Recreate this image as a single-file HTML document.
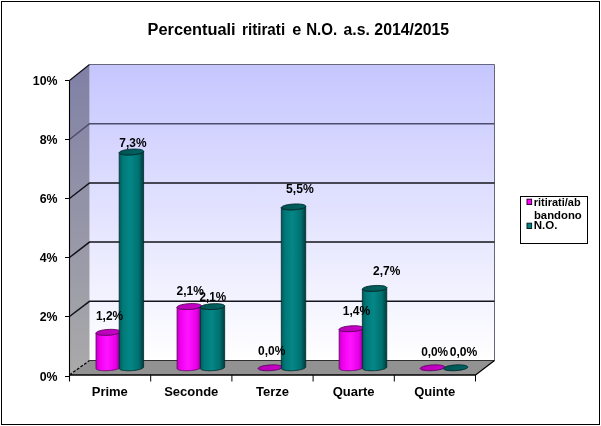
<!DOCTYPE html>
<html><head><meta charset="utf-8"><title>Percentuali ritirati e N.O.</title>
<style>html,body{margin:0;padding:0;background:#fff;}svg{display:block;}</style></head>
<body>
<svg width="601" height="426" viewBox="0 0 601 426" font-family="'Liberation Sans', sans-serif" font-weight="bold" fill="#000">
<defs>
<linearGradient id="gw" x1="0" y1="0" x2="0" y2="1"><stop offset="0" stop-color="#c6c6ff"/><stop offset="1" stop-color="#ffffff"/></linearGradient>
<linearGradient id="gs" x1="0" y1="0" x2="0" y2="1"><stop offset="0" stop-color="#8080a6"/><stop offset="1" stop-color="#aaaaaa"/></linearGradient>
<linearGradient id="gm" x1="0" y1="0" x2="1" y2="0"><stop offset="0" stop-color="#c400c4"/><stop offset="0.15" stop-color="#f000f0"/><stop offset="0.45" stop-color="#ff14ff"/><stop offset="0.8" stop-color="#e800e8"/><stop offset="1" stop-color="#900090"/></linearGradient>
<linearGradient id="gt" x1="0" y1="0" x2="1" y2="0"><stop offset="0" stop-color="#005a5a"/><stop offset="0.15" stop-color="#007878"/><stop offset="0.45" stop-color="#058787"/><stop offset="0.8" stop-color="#007070"/><stop offset="1" stop-color="#003c3c"/></linearGradient>
<linearGradient id="gmt" x1="0" y1="0" x2="1" y2="0"><stop offset="0" stop-color="#b400b4"/><stop offset="1" stop-color="#cc00cc"/></linearGradient>
<linearGradient id="gtt" x1="0" y1="0" x2="1" y2="0"><stop offset="0" stop-color="#005252"/><stop offset="1" stop-color="#006464"/></linearGradient>
</defs>
<rect x="0" y="0" width="601" height="426" fill="#fff"/>
<rect x="1.5" y="1.5" width="598" height="423" fill="#fff" stroke="#000" stroke-width="1"/>
<rect x="89.5" y="64.5" width="405.0" height="296.0" fill="url(#gw)"/>
<path d="M89.5,64.5 L494.5,64.5 L494.5,360.5" fill="none" stroke="#66667c" stroke-width="1"/>
<polygon points="69.5,80.5 89.5,64.5 89.5,360.5 69.5,375.0" fill="url(#gs)"/>
<polygon points="69.5,375.0 89.5,360.5 494.5,360.5 475.5,375.0" fill="#929292"/>
<path d="M89.5,360.5 L494.5,360.5" stroke="#303030" stroke-width="1"/>
<path d="M69.5,375.0 L89.5,360.5" stroke="#000" stroke-width="1.2" stroke-dasharray="3 1.5"/>
<path d="M475.5,375.0 L494.5,360.5" stroke="#000" stroke-width="1.2"/>
<path d="M69.5,316.5 L89.5,301.3 L494.5,301.3" fill="none" stroke="#14141c" stroke-width="1.5"/>
<path d="M69.5,257.5 L89.5,242.1 L494.5,242.1" fill="none" stroke="#14141c" stroke-width="1.5"/>
<path d="M69.5,198.5 L89.5,182.9 L494.5,182.9" fill="none" stroke="#14141c" stroke-width="1.5"/>
<path d="M69.5,139.5 L89.5,123.7 L494.5,123.7" fill="none" stroke="#4c4c6c" stroke-width="1.5"/>
<path d="M69.5,80.5 L89.5,64.5" stroke="#101018" stroke-width="1.3"/>
<path d="M69.5,80.5 L69.5,381.5" fill="none" stroke="#000" stroke-width="1.1"/>
<path d="M69.0,375.0 L475.8,375.0" fill="none" stroke="#000" stroke-width="1.7"/>
<path d="M65.0,376.5 L69.5,376.5" stroke="#000" stroke-width="1"/>
<text x="39.66" y="380.80" font-size="13" textLength="17.85" lengthAdjust="spacingAndGlyphs">0%</text>
<path d="M65.0,316.5 L69.5,316.5" stroke="#000" stroke-width="1"/>
<text x="39.66" y="320.80" font-size="13" textLength="17.85" lengthAdjust="spacingAndGlyphs">2%</text>
<path d="M65.0,257.5 L69.5,257.5" stroke="#000" stroke-width="1"/>
<text x="39.66" y="261.80" font-size="13" textLength="17.85" lengthAdjust="spacingAndGlyphs">4%</text>
<path d="M65.0,198.5 L69.5,198.5" stroke="#000" stroke-width="1"/>
<text x="39.66" y="202.80" font-size="13" textLength="17.85" lengthAdjust="spacingAndGlyphs">6%</text>
<path d="M65.0,139.5 L69.5,139.5" stroke="#000" stroke-width="1"/>
<text x="39.66" y="143.80" font-size="13" textLength="17.85" lengthAdjust="spacingAndGlyphs">8%</text>
<path d="M65.0,80.5 L69.5,80.5" stroke="#000" stroke-width="1"/>
<text x="32.81" y="84.80" font-size="13" textLength="24.72" lengthAdjust="spacingAndGlyphs">10%</text>
<path d="M150.7,375.0 L150.7,381.5" stroke="#000" stroke-width="1"/>
<path d="M231.9,375.0 L231.9,381.5" stroke="#000" stroke-width="1"/>
<path d="M313.1,375.0 L313.1,381.5" stroke="#000" stroke-width="1"/>
<path d="M394.3,375.0 L394.3,381.5" stroke="#000" stroke-width="1"/>
<path d="M475.5,375.0 L475.5,381.5" stroke="#000" stroke-width="1"/>
<text x="91.73" y="396.40" font-size="13" textLength="36.13" lengthAdjust="spacingAndGlyphs">Prime</text>
<text x="164.16" y="396.40" font-size="13" textLength="54.19" lengthAdjust="spacingAndGlyphs">Seconde</text>
<text x="256.08" y="396.40" font-size="13" textLength="33.00" lengthAdjust="spacingAndGlyphs">Terze</text>
<text x="332.64" y="396.40" font-size="13" textLength="41.90" lengthAdjust="spacingAndGlyphs">Quarte</text>
<text x="414.20" y="396.40" font-size="13" textLength="41.17" lengthAdjust="spacingAndGlyphs">Quinte</text>
<path d="M96.00,368.53 L96.05,368.80 L96.23,369.07 L96.52,369.32 L96.92,369.56 L97.44,369.79 L98.05,369.99 L98.77,370.17 L99.57,370.33 L100.46,370.47 L101.42,370.58 L102.45,370.66 L103.53,370.72 L104.66,370.75 L105.82,370.75 L107.00,370.72 L108.20,370.66 L109.40,370.57 L110.58,370.46 L111.74,370.33 L112.87,370.16 L113.95,369.98 L114.98,369.77 L115.94,369.55 L116.83,369.31 L117.63,369.05 L118.35,368.79 L118.96,368.51 L119.48,368.22 L119.88,367.94 L120.17,367.65 L120.35,367.36 L120.40,367.07 L120.40,331.57 L120.35,331.86 L120.17,332.15 L119.88,332.44 L119.48,332.72 L118.96,333.01 L118.35,333.29 L117.63,333.55 L116.83,333.81 L115.94,334.05 L114.98,334.27 L113.95,334.48 L112.87,334.66 L111.74,334.83 L110.58,334.96 L109.40,335.07 L108.20,335.16 L107.00,335.22 L105.82,335.25 L104.66,335.25 L103.53,335.22 L102.45,335.16 L101.42,335.08 L100.46,334.97 L99.57,334.83 L98.77,334.67 L98.05,334.49 L97.44,334.29 L96.92,334.06 L96.52,333.82 L96.23,333.57 L96.05,333.30 L96.00,333.03Z" fill="url(#gm)" stroke="#600060" stroke-width="0.8"/>
<path d="M120.03,332.30 L120.32,331.91 L120.40,331.54 L120.28,331.17 L119.95,330.82 L119.41,330.50 L118.69,330.21 L117.78,329.96 L116.71,329.75 L115.50,329.57 L114.16,329.45 L112.72,329.38 L111.20,329.35 L109.63,329.38 L108.04,329.45 L106.44,329.57 L104.88,329.75 L103.38,329.96 L101.96,330.21 L100.64,330.50 L99.45,330.82 L98.42,331.17 L97.55,331.54 L96.86,331.91 L96.37,332.30 L96.08,332.69 L96.00,333.06 L96.12,333.43 L96.45,333.77 L96.99,334.10 L97.71,334.39 L98.62,334.64 L99.69,334.85 L100.90,335.03 L102.24,335.15 L103.68,335.22 L105.20,335.25 L106.77,335.22 L108.36,335.15 L109.96,335.03 L111.52,334.85 L113.02,334.64 L114.44,334.39 L115.76,334.10 L116.95,333.77 L117.98,333.43 L118.85,333.06 L119.54,332.69 L120.03,332.30Z" fill="url(#gmt)" stroke="#600060" stroke-width="0.9"/>
<path d="M119.20,368.53 L119.25,368.80 L119.43,369.07 L119.72,369.32 L120.12,369.56 L120.64,369.79 L121.25,369.99 L121.97,370.17 L122.77,370.33 L123.66,370.47 L124.62,370.58 L125.65,370.66 L126.73,370.72 L127.86,370.75 L129.02,370.75 L130.20,370.72 L131.40,370.66 L132.60,370.57 L133.78,370.46 L134.94,370.33 L136.07,370.16 L137.15,369.98 L138.18,369.77 L139.14,369.55 L140.03,369.31 L140.83,369.05 L141.55,368.79 L142.16,368.51 L142.68,368.22 L143.08,367.94 L143.37,367.65 L143.55,367.36 L143.60,367.07 L143.60,151.27 L143.55,151.56 L143.37,151.85 L143.08,152.14 L142.68,152.42 L142.16,152.71 L141.55,152.99 L140.83,153.25 L140.03,153.51 L139.14,153.75 L138.18,153.97 L137.15,154.18 L136.07,154.36 L134.94,154.53 L133.78,154.66 L132.60,154.77 L131.40,154.86 L130.20,154.92 L129.02,154.95 L127.86,154.95 L126.73,154.92 L125.65,154.86 L124.62,154.78 L123.66,154.67 L122.77,154.53 L121.97,154.37 L121.25,154.19 L120.64,153.99 L120.12,153.76 L119.72,153.52 L119.43,153.27 L119.25,153.00 L119.20,152.73Z" fill="url(#gt)" stroke="#002828" stroke-width="0.8"/>
<path d="M143.23,152.00 L143.52,151.61 L143.60,151.24 L143.48,150.87 L143.15,150.52 L142.61,150.20 L141.89,149.91 L140.98,149.66 L139.91,149.45 L138.70,149.27 L137.36,149.15 L135.92,149.08 L134.40,149.05 L132.83,149.08 L131.24,149.15 L129.64,149.27 L128.08,149.45 L126.58,149.66 L125.16,149.91 L123.84,150.20 L122.65,150.52 L121.62,150.87 L120.75,151.24 L120.06,151.61 L119.57,152.00 L119.28,152.39 L119.20,152.76 L119.32,153.13 L119.65,153.47 L120.19,153.80 L120.91,154.09 L121.82,154.34 L122.89,154.55 L124.10,154.73 L125.44,154.85 L126.88,154.92 L128.40,154.95 L129.97,154.92 L131.56,154.85 L133.16,154.73 L134.72,154.55 L136.22,154.34 L137.64,154.09 L138.96,153.80 L140.15,153.47 L141.18,153.13 L142.05,152.76 L142.74,152.39 L143.23,152.00Z" fill="url(#gtt)" stroke="#002828" stroke-width="0.9"/>
<path d="M177.05,368.53 L177.10,368.80 L177.28,369.07 L177.57,369.32 L177.97,369.56 L178.49,369.79 L179.10,369.99 L179.82,370.17 L180.62,370.33 L181.51,370.47 L182.47,370.58 L183.50,370.66 L184.58,370.72 L185.71,370.75 L186.87,370.75 L188.05,370.72 L189.25,370.66 L190.45,370.57 L191.63,370.46 L192.79,370.33 L193.92,370.16 L195.00,369.98 L196.03,369.77 L196.99,369.55 L197.88,369.31 L198.68,369.05 L199.40,368.79 L200.01,368.51 L200.53,368.22 L200.93,367.94 L201.22,367.65 L201.40,367.36 L201.45,367.07 L201.45,305.77 L201.40,306.06 L201.22,306.35 L200.93,306.64 L200.53,306.92 L200.01,307.21 L199.40,307.49 L198.68,307.75 L197.88,308.01 L196.99,308.25 L196.03,308.47 L195.00,308.68 L193.92,308.86 L192.79,309.03 L191.63,309.16 L190.45,309.27 L189.25,309.36 L188.05,309.42 L186.87,309.45 L185.71,309.45 L184.58,309.42 L183.50,309.36 L182.47,309.28 L181.51,309.17 L180.62,309.03 L179.82,308.87 L179.10,308.69 L178.49,308.49 L177.97,308.26 L177.57,308.02 L177.28,307.77 L177.10,307.50 L177.05,307.23Z" fill="url(#gm)" stroke="#600060" stroke-width="0.8"/>
<path d="M201.08,306.50 L201.37,306.11 L201.45,305.74 L201.33,305.37 L201.00,305.02 L200.46,304.70 L199.74,304.41 L198.83,304.16 L197.76,303.95 L196.55,303.77 L195.21,303.65 L193.77,303.58 L192.25,303.55 L190.68,303.58 L189.09,303.65 L187.49,303.77 L185.93,303.95 L184.43,304.16 L183.01,304.41 L181.69,304.70 L180.50,305.02 L179.47,305.37 L178.60,305.74 L177.91,306.11 L177.42,306.50 L177.13,306.89 L177.05,307.26 L177.17,307.63 L177.50,307.98 L178.04,308.30 L178.76,308.59 L179.67,308.84 L180.74,309.05 L181.95,309.23 L183.29,309.35 L184.73,309.42 L186.25,309.45 L187.82,309.42 L189.41,309.35 L191.01,309.23 L192.57,309.05 L194.07,308.84 L195.49,308.59 L196.81,308.30 L198.00,307.98 L199.03,307.63 L199.90,307.26 L200.59,306.89 L201.08,306.50Z" fill="url(#gmt)" stroke="#600060" stroke-width="0.9"/>
<path d="M200.25,368.53 L200.30,368.80 L200.48,369.07 L200.77,369.32 L201.17,369.56 L201.69,369.79 L202.30,369.99 L203.02,370.17 L203.82,370.33 L204.71,370.47 L205.67,370.58 L206.70,370.66 L207.78,370.72 L208.91,370.75 L210.07,370.75 L211.25,370.72 L212.45,370.66 L213.65,370.57 L214.83,370.46 L215.99,370.33 L217.12,370.16 L218.20,369.98 L219.23,369.77 L220.19,369.55 L221.08,369.31 L221.88,369.05 L222.60,368.79 L223.21,368.51 L223.73,368.22 L224.13,367.94 L224.42,367.65 L224.60,367.36 L224.65,367.07 L224.65,305.87 L224.60,306.16 L224.42,306.45 L224.13,306.74 L223.73,307.02 L223.21,307.31 L222.60,307.59 L221.88,307.85 L221.08,308.11 L220.19,308.35 L219.23,308.57 L218.20,308.78 L217.12,308.96 L215.99,309.13 L214.83,309.26 L213.65,309.37 L212.45,309.46 L211.25,309.52 L210.07,309.55 L208.91,309.55 L207.78,309.52 L206.70,309.46 L205.67,309.38 L204.71,309.27 L203.82,309.13 L203.02,308.97 L202.30,308.79 L201.69,308.59 L201.17,308.36 L200.77,308.12 L200.48,307.87 L200.30,307.60 L200.25,307.33Z" fill="url(#gt)" stroke="#002828" stroke-width="0.8"/>
<path d="M224.28,306.60 L224.57,306.21 L224.65,305.84 L224.53,305.47 L224.20,305.12 L223.66,304.80 L222.94,304.51 L222.03,304.26 L220.96,304.05 L219.75,303.87 L218.41,303.75 L216.97,303.68 L215.45,303.65 L213.88,303.68 L212.29,303.75 L210.69,303.87 L209.13,304.05 L207.63,304.26 L206.21,304.51 L204.89,304.80 L203.70,305.12 L202.67,305.47 L201.80,305.84 L201.11,306.21 L200.62,306.60 L200.33,306.99 L200.25,307.36 L200.37,307.73 L200.70,308.07 L201.24,308.40 L201.96,308.69 L202.87,308.94 L203.94,309.15 L205.15,309.33 L206.49,309.45 L207.93,309.52 L209.45,309.55 L211.02,309.52 L212.61,309.45 L214.21,309.33 L215.77,309.15 L217.27,308.94 L218.69,308.69 L220.01,308.40 L221.20,308.07 L222.23,307.73 L223.10,307.36 L223.79,306.99 L224.28,306.60Z" fill="url(#gtt)" stroke="#002828" stroke-width="0.9"/>
<path d="M282.13,367.80 L282.42,367.41 L282.50,367.04 L282.38,366.67 L282.05,366.32 L281.51,366.00 L280.79,365.71 L279.88,365.46 L278.81,365.25 L277.60,365.07 L276.26,364.95 L274.82,364.88 L273.30,364.85 L271.73,364.88 L270.14,364.95 L268.54,365.07 L266.98,365.25 L265.48,365.46 L264.06,365.71 L262.74,366.00 L261.55,366.32 L260.52,366.67 L259.65,367.04 L258.96,367.41 L258.47,367.80 L258.18,368.19 L258.10,368.56 L258.22,368.93 L258.55,369.28 L259.09,369.60 L259.81,369.89 L260.72,370.14 L261.79,370.35 L263.00,370.53 L264.34,370.65 L265.78,370.72 L267.30,370.75 L268.87,370.72 L270.46,370.65 L272.06,370.53 L273.62,370.35 L275.12,370.14 L276.54,369.89 L277.86,369.60 L279.05,369.28 L280.08,368.93 L280.95,368.56 L281.64,368.19 L282.13,367.80Z" fill="url(#gmt)" stroke="#600060" stroke-width="0.9"/>
<path d="M281.30,368.53 L281.35,368.80 L281.53,369.07 L281.82,369.32 L282.22,369.56 L282.74,369.79 L283.35,369.99 L284.07,370.17 L284.87,370.33 L285.76,370.47 L286.72,370.58 L287.75,370.66 L288.83,370.72 L289.96,370.75 L291.12,370.75 L292.30,370.72 L293.50,370.66 L294.70,370.57 L295.88,370.46 L297.04,370.33 L298.17,370.16 L299.25,369.98 L300.28,369.77 L301.24,369.55 L302.13,369.31 L302.93,369.05 L303.65,368.79 L304.26,368.51 L304.78,368.22 L305.18,367.94 L305.47,367.65 L305.65,367.36 L305.70,367.07 L305.70,206.17 L305.65,206.46 L305.47,206.75 L305.18,207.04 L304.78,207.32 L304.26,207.61 L303.65,207.89 L302.93,208.15 L302.13,208.41 L301.24,208.65 L300.28,208.87 L299.25,209.08 L298.17,209.26 L297.04,209.43 L295.88,209.56 L294.70,209.67 L293.50,209.76 L292.30,209.82 L291.12,209.85 L289.96,209.85 L288.83,209.82 L287.75,209.76 L286.72,209.68 L285.76,209.57 L284.87,209.43 L284.07,209.27 L283.35,209.09 L282.74,208.89 L282.22,208.66 L281.82,208.42 L281.53,208.17 L281.35,207.90 L281.30,207.63Z" fill="url(#gt)" stroke="#002828" stroke-width="0.8"/>
<path d="M305.33,206.90 L305.62,206.51 L305.70,206.14 L305.58,205.77 L305.25,205.42 L304.71,205.10 L303.99,204.81 L303.08,204.56 L302.01,204.35 L300.80,204.17 L299.46,204.05 L298.02,203.98 L296.50,203.95 L294.93,203.98 L293.34,204.05 L291.74,204.17 L290.18,204.35 L288.68,204.56 L287.26,204.81 L285.94,205.10 L284.75,205.42 L283.72,205.77 L282.85,206.14 L282.16,206.51 L281.67,206.90 L281.38,207.29 L281.30,207.66 L281.42,208.03 L281.75,208.37 L282.29,208.70 L283.01,208.99 L283.92,209.24 L284.99,209.45 L286.20,209.63 L287.54,209.75 L288.98,209.82 L290.50,209.85 L292.07,209.82 L293.66,209.75 L295.26,209.63 L296.82,209.45 L298.32,209.24 L299.74,208.99 L301.06,208.70 L302.25,208.37 L303.28,208.03 L304.15,207.66 L304.84,207.29 L305.33,206.90Z" fill="url(#gtt)" stroke="#002828" stroke-width="0.9"/>
<path d="M339.15,368.53 L339.20,368.80 L339.38,369.07 L339.67,369.32 L340.07,369.56 L340.59,369.79 L341.20,369.99 L341.92,370.17 L342.72,370.33 L343.61,370.47 L344.57,370.58 L345.60,370.66 L346.68,370.72 L347.81,370.75 L348.97,370.75 L350.15,370.72 L351.35,370.66 L352.55,370.57 L353.73,370.46 L354.89,370.33 L356.02,370.16 L357.10,369.98 L358.13,369.77 L359.09,369.55 L359.98,369.31 L360.78,369.05 L361.50,368.79 L362.11,368.51 L362.63,368.22 L363.03,367.94 L363.32,367.65 L363.50,367.36 L363.55,367.07 L363.55,327.97 L363.50,328.26 L363.32,328.55 L363.03,328.84 L362.63,329.12 L362.11,329.41 L361.50,329.69 L360.78,329.95 L359.98,330.21 L359.09,330.45 L358.13,330.67 L357.10,330.88 L356.02,331.06 L354.89,331.23 L353.73,331.36 L352.55,331.47 L351.35,331.56 L350.15,331.62 L348.97,331.65 L347.81,331.65 L346.68,331.62 L345.60,331.56 L344.57,331.48 L343.61,331.37 L342.72,331.23 L341.92,331.07 L341.20,330.89 L340.59,330.69 L340.07,330.46 L339.67,330.22 L339.38,329.97 L339.20,329.70 L339.15,329.43Z" fill="url(#gm)" stroke="#600060" stroke-width="0.8"/>
<path d="M363.18,328.70 L363.47,328.31 L363.55,327.94 L363.43,327.57 L363.10,327.22 L362.56,326.90 L361.84,326.61 L360.93,326.36 L359.86,326.15 L358.65,325.97 L357.31,325.85 L355.87,325.78 L354.35,325.75 L352.78,325.78 L351.19,325.85 L349.59,325.97 L348.03,326.15 L346.53,326.36 L345.11,326.61 L343.79,326.90 L342.60,327.22 L341.57,327.57 L340.70,327.94 L340.01,328.31 L339.52,328.70 L339.23,329.09 L339.15,329.46 L339.27,329.83 L339.60,330.18 L340.14,330.50 L340.86,330.79 L341.77,331.04 L342.84,331.25 L344.05,331.43 L345.39,331.55 L346.83,331.62 L348.35,331.65 L349.92,331.62 L351.51,331.55 L353.11,331.43 L354.67,331.25 L356.17,331.04 L357.59,330.79 L358.91,330.50 L360.10,330.18 L361.13,329.83 L362.00,329.46 L362.69,329.09 L363.18,328.70Z" fill="url(#gmt)" stroke="#600060" stroke-width="0.9"/>
<path d="M362.35,368.53 L362.40,368.80 L362.58,369.07 L362.87,369.32 L363.27,369.56 L363.79,369.79 L364.40,369.99 L365.12,370.17 L365.92,370.33 L366.81,370.47 L367.77,370.58 L368.80,370.66 L369.88,370.72 L371.01,370.75 L372.17,370.75 L373.35,370.72 L374.55,370.66 L375.75,370.57 L376.93,370.46 L378.09,370.33 L379.22,370.16 L380.30,369.98 L381.33,369.77 L382.29,369.55 L383.18,369.31 L383.98,369.05 L384.70,368.79 L385.31,368.51 L385.83,368.22 L386.23,367.94 L386.52,367.65 L386.70,367.36 L386.75,367.07 L386.75,287.67 L386.70,287.96 L386.52,288.25 L386.23,288.54 L385.83,288.82 L385.31,289.11 L384.70,289.39 L383.98,289.65 L383.18,289.91 L382.29,290.15 L381.33,290.37 L380.30,290.58 L379.22,290.76 L378.09,290.93 L376.93,291.06 L375.75,291.17 L374.55,291.26 L373.35,291.32 L372.17,291.35 L371.01,291.35 L369.88,291.32 L368.80,291.26 L367.77,291.18 L366.81,291.07 L365.92,290.93 L365.12,290.77 L364.40,290.59 L363.79,290.39 L363.27,290.16 L362.87,289.92 L362.58,289.67 L362.40,289.40 L362.35,289.13Z" fill="url(#gt)" stroke="#002828" stroke-width="0.8"/>
<path d="M386.38,288.40 L386.67,288.01 L386.75,287.64 L386.63,287.27 L386.30,286.92 L385.76,286.60 L385.04,286.31 L384.13,286.06 L383.06,285.85 L381.85,285.67 L380.51,285.55 L379.07,285.48 L377.55,285.45 L375.98,285.48 L374.39,285.55 L372.79,285.67 L371.23,285.85 L369.73,286.06 L368.31,286.31 L366.99,286.60 L365.80,286.92 L364.77,287.27 L363.90,287.64 L363.21,288.01 L362.72,288.40 L362.43,288.79 L362.35,289.16 L362.47,289.53 L362.80,289.88 L363.34,290.20 L364.06,290.49 L364.97,290.74 L366.04,290.95 L367.25,291.13 L368.59,291.25 L370.03,291.32 L371.55,291.35 L373.12,291.32 L374.71,291.25 L376.31,291.13 L377.87,290.95 L379.37,290.74 L380.79,290.49 L382.11,290.20 L383.30,289.88 L384.33,289.53 L385.20,289.16 L385.89,288.79 L386.38,288.40Z" fill="url(#gtt)" stroke="#002828" stroke-width="0.9"/>
<path d="M444.23,367.80 L444.52,367.41 L444.60,367.04 L444.48,366.67 L444.15,366.32 L443.61,366.00 L442.89,365.71 L441.98,365.46 L440.91,365.25 L439.70,365.07 L438.36,364.95 L436.92,364.88 L435.40,364.85 L433.83,364.88 L432.24,364.95 L430.64,365.07 L429.08,365.25 L427.58,365.46 L426.16,365.71 L424.84,366.00 L423.65,366.32 L422.62,366.67 L421.75,367.04 L421.06,367.41 L420.57,367.80 L420.28,368.19 L420.20,368.56 L420.32,368.93 L420.65,369.28 L421.19,369.60 L421.91,369.89 L422.82,370.14 L423.89,370.35 L425.10,370.53 L426.44,370.65 L427.88,370.72 L429.40,370.75 L430.97,370.72 L432.56,370.65 L434.16,370.53 L435.72,370.35 L437.22,370.14 L438.64,369.89 L439.96,369.60 L441.15,369.28 L442.18,368.93 L443.05,368.56 L443.74,368.19 L444.23,367.80Z" fill="url(#gmt)" stroke="#600060" stroke-width="0.9"/>
<path d="M467.43,367.80 L467.72,367.41 L467.80,367.04 L467.68,366.67 L467.35,366.32 L466.81,366.00 L466.09,365.71 L465.18,365.46 L464.11,365.25 L462.90,365.07 L461.56,364.95 L460.12,364.88 L458.60,364.85 L457.03,364.88 L455.44,364.95 L453.84,365.07 L452.28,365.25 L450.78,365.46 L449.36,365.71 L448.04,366.00 L446.85,366.32 L445.82,366.67 L444.95,367.04 L444.26,367.41 L443.77,367.80 L443.48,368.19 L443.40,368.56 L443.52,368.93 L443.85,369.28 L444.39,369.60 L445.11,369.89 L446.02,370.14 L447.09,370.35 L448.30,370.53 L449.64,370.65 L451.08,370.72 L452.60,370.75 L454.17,370.72 L455.76,370.65 L457.36,370.53 L458.92,370.35 L460.42,370.14 L461.84,369.89 L463.16,369.60 L464.35,369.28 L465.38,368.93 L466.25,368.56 L466.94,368.19 L467.43,367.80Z" fill="url(#gtt)" stroke="#002828" stroke-width="0.9"/>
<text x="96.03" y="319.50" font-size="12" textLength="27.06" lengthAdjust="spacingAndGlyphs">1,2%</text>
<text x="176.58" y="294.50" font-size="12" textLength="27.21" lengthAdjust="spacingAndGlyphs">2,1%</text>
<text x="258.02" y="354.60" font-size="12" textLength="27.27" lengthAdjust="spacingAndGlyphs">0,0%</text>
<text x="342.72" y="314.80" font-size="12" textLength="27.37" lengthAdjust="spacingAndGlyphs">1,4%</text>
<text x="421.13" y="355.50" font-size="12" textLength="27.06" lengthAdjust="spacingAndGlyphs">0,0%</text>
<text x="119.36" y="146.60" font-size="12" textLength="27.12" lengthAdjust="spacingAndGlyphs">7,3%</text>
<text x="199.59" y="300.50" font-size="12" textLength="26.69" lengthAdjust="spacingAndGlyphs">2,1%</text>
<text x="286.14" y="193.00" font-size="12" textLength="27.66" lengthAdjust="spacingAndGlyphs">5,5%</text>
<text x="373.08" y="274.50" font-size="12" textLength="27.21" lengthAdjust="spacingAndGlyphs">2,7%</text>
<text x="449.72" y="356.30" font-size="12" textLength="27.58" lengthAdjust="spacingAndGlyphs">0,0%</text>
<text x="147.59" y="34.80" font-size="16" textLength="88.08" lengthAdjust="spacingAndGlyphs">Percentuali</text>
<text x="242.01" y="34.80" font-size="16" textLength="43.11" lengthAdjust="spacingAndGlyphs">ritirati</text>
<text x="292.15" y="34.80" font-size="16" textLength="9.04" lengthAdjust="spacingAndGlyphs">e</text>
<text x="306.22" y="34.80" font-size="16" textLength="30.97" lengthAdjust="spacingAndGlyphs">N.O.</text>
<text x="343.53" y="34.80" font-size="16" textLength="26.24" lengthAdjust="spacingAndGlyphs">a.s.</text>
<text x="374.35" y="34.80" font-size="16" textLength="74.78" lengthAdjust="spacingAndGlyphs">2014/2015</text>
<rect x="520.5" y="196.5" width="67" height="47" fill="#fff" stroke="#000" stroke-width="1"/>
<rect x="527" y="199.2" width="4.6" height="5.3" fill="#ff00ff" stroke="#300030" stroke-width="1"/>
<text x="533.69" y="205.70" font-size="10.5" textLength="46.94" lengthAdjust="spacingAndGlyphs">ritirati/ab</text>
<text x="533.96" y="219.00" font-size="10.5" textLength="47.80" lengthAdjust="spacingAndGlyphs">bandono</text>
<rect x="527" y="223.2" width="4.6" height="5.3" fill="#008080" stroke="#002020" stroke-width="1"/>
<text x="533.65" y="228.80" font-size="10.5" textLength="23.71" lengthAdjust="spacingAndGlyphs">N.O.</text>
</svg>
</body></html>
